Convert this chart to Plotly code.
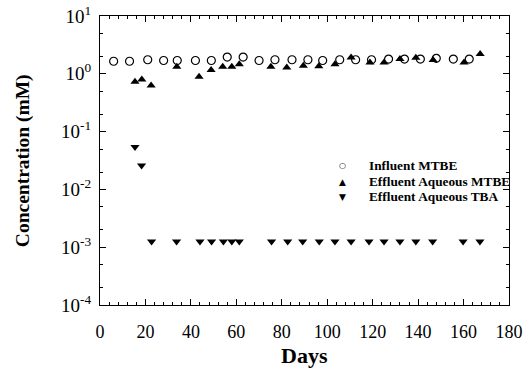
import plotly.graph_objects as go

# Data
inf_days = [6, 13, 21, 28, 34, 42, 49, 56, 63, 70, 77, 84.5, 91.5, 98, 105.5, 112.5, 119.5, 127, 134, 141, 148, 155.5, 162.5]
inf_conc = [1.65, 1.65, 1.75, 1.7, 1.7, 1.7, 1.7, 1.95, 1.95, 1.7, 1.75, 1.75, 1.75, 1.7, 1.75, 1.75, 1.75, 1.8, 1.8, 1.8, 1.85, 1.8, 1.8]

eff_days = [15.4, 18.4, 22.5, 33.8, 43.6, 48.9, 54, 58, 61.3, 75.2, 82.2, 89.5, 96.3, 103.4, 110.5, 118.8, 125, 132, 139, 146.6, 160.2, 167.3]
eff_conc = [0.73, 0.8, 0.63, 1.32, 0.89, 1.16, 1.32, 1.32, 1.47, 1.32, 1.29, 1.38, 1.35, 1.47, 1.92, 1.57, 1.57, 1.8, 1.9, 1.73, 1.57, 2.19]

tba_days = [15.4, 18.3, 22.7, 33.7, 44, 49.1, 54.3, 58, 61.3, 75.5, 82.6, 89.2, 96.5, 103.4, 110.5, 118.4, 125, 132, 139, 146.4, 159.8, 167.2]
tba_conc = [0.054, 0.026, 0.00125, 0.00125, 0.00125, 0.00125, 0.00125, 0.00125, 0.00125, 0.00125, 0.00125, 0.00125, 0.00125, 0.00125, 0.00125, 0.00125, 0.00125, 0.00125, 0.00125, 0.00125, 0.00125, 0.00125]

series_names = ["Influent MTBE", "Effluent Aqueous MTBE", "Effluent Aqueous TBA"]
legend_glyphs = ["○", "▲", "▼"]

x_ticks = [0, 20, 40, 60, 80, 100, 120, 140, 160, 180]
y_tickvals = [1e-4, 1e-3, 1e-2, 1e-1, 1, 10]
y_ticktext = ["10<sup>-4</sup>", "10<sup>-3</sup>", "10<sup>-2</sup>", "10<sup>-1</sup>", "10<sup>0</sup>", "10<sup>1</sup>"]

serif = "Liberation Serif, Times New Roman, serif"

fig = go.Figure()
fig.add_trace(go.Scatter(x=inf_days, y=inf_conc, mode="markers", name=series_names[0],
                         marker=dict(symbol="circle-open", size=8, color="black", line=dict(width=1.2, color="black"))))
fig.add_trace(go.Scatter(x=eff_days, y=eff_conc, mode="markers", name=series_names[1],
                         marker=dict(symbol="triangle-up", size=8, color="black")))
fig.add_trace(go.Scatter(x=tba_days, y=tba_conc, mode="markers", name=series_names[2],
                         marker=dict(symbol="triangle-down", size=8, color="black")))

# Legend drawn as text block (compact spacing like the original)
annotations = []
legend_rows = [0.481, 0.427, 0.374]
for name, glyph, yy in zip(series_names, legend_glyphs, legend_rows):
    annotations.append(dict(text=glyph, xref="paper", yref="paper", x=0.594, y=yy, xanchor="center",
                            yanchor="middle", showarrow=False,
                            font=dict(family="DejaVu Sans", size=9 if glyph != "○" else 8, color="black")))
    annotations.append(dict(text="<b>" + name + "</b>", xref="paper", yref="paper", x=0.653, y=yy,
                            xanchor="left", yanchor="middle", showarrow=False,
                            font=dict(family=serif, size=13.3, color="black")))
annotations.append(dict(text="<b>Days</b>", xref="paper", yref="paper", x=0.5, y=-0.176, xanchor="center",
                        yanchor="middle", showarrow=False, font=dict(family=serif, size=22)))
annotations.append(dict(text="<b>Concentration (mM)</b>", xref="paper", yref="paper", x=-0.189, y=0.5,
                        xanchor="center", yanchor="middle", textangle=-90, showarrow=False,
                        font=dict(family=serif, size=19.5)))

fig.update_layout(
    width=529, height=373,
    margin=dict(l=100, r=20, t=16, b=68),
    paper_bgcolor="white", plot_bgcolor="white",
    font=dict(family=serif, color="black", size=18),
    showlegend=False,
    annotations=annotations,
)
fig.update_xaxes(
    range=[0, 180], tickvals=x_ticks, ticks="inside", ticklen=6, tickwidth=1, tickcolor="black",
    showline=True, linecolor="black", linewidth=1, mirror="ticks", showgrid=False, zeroline=False,
    minor=dict(dtick=4, ticks="inside", ticklen=3, tickcolor="black", showgrid=False),
    tickfont=dict(family=serif, size=18), ticklabelstandoff=10, automargin=False,
)
fig.update_yaxes(
    type="log", range=[-4, 1], tickvals=y_tickvals, ticktext=y_ticktext, ticks="inside", ticklen=6,
    tickwidth=1, tickcolor="black", showline=True, linecolor="black", linewidth=1, mirror="ticks",
    showgrid=False, zeroline=False,
    minor=dict(ticks="inside", ticklen=3, tickcolor="black", showgrid=False),
    tickfont=dict(family=serif, size=19), ticklabelstandoff=4, automargin=False,
)

fig.write_html("out.html", config={"displayModeBar": False},
               post_script="document.body.style.margin='0px';")
